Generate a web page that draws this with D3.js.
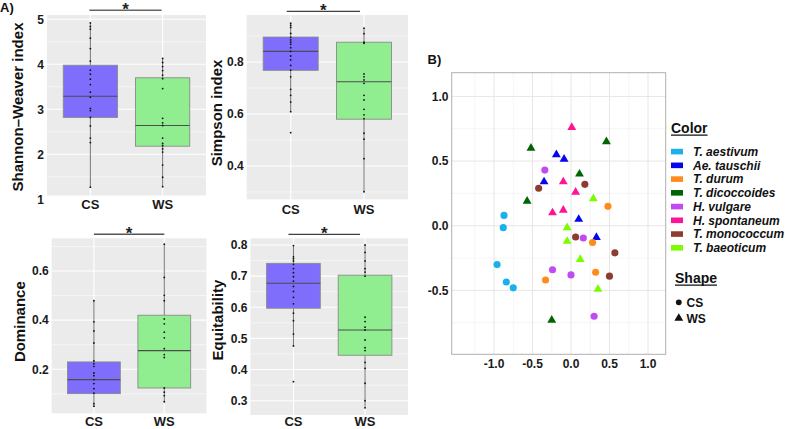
<!DOCTYPE html>
<html><head><meta charset="utf-8">
<script src="https://cdn.jsdelivr.net/npm/d3@7"></script>
<style>
body{margin:0;background:#fff}
svg{display:block;font-family:"Liberation Sans",Arial,sans-serif}
</style>
</head><body><svg id="c" width="785" height="429"></svg>
<script>
// ---------- DATA ----------
const groups = ["CS", "WS"];

// box stats: [whiskerLow, Q1, median, Q3, whiskerHigh]
const shannonBoxCS = [1.27, 2.82, 3.29, 3.98, 4.92];
const shannonBoxWS = [1.27, 2.18, 2.64, 3.70, 4.13];
const shannonCS = [4.92,4.84,4.78,4.58,4.35,4.07,3.87,3.78,3.67,3.55,3.38,3.27,3.02,2.97,2.82,2.63,2.36,2.26,1.27];
const shannonWS = [4.13,4.04,3.95,3.86,3.76,3.68,3.46,2.80,2.70,2.64,2.36,2.24,2.19,2.12,2.05,1.76,1.49,1.28];
const shannonTicks = [1, 2, 3, 4, 5];

const simpsonBoxCS = [0.609, 0.768, 0.841, 0.896, 0.949];
const simpsonBoxWS = [0.301, 0.580, 0.724, 0.876, 0.930];
const simpsonCS = [0.949,0.941,0.933,0.910,0.895,0.885,0.876,0.868,0.855,0.841,0.823,0.808,0.787,0.769,0.743,0.695,0.672,0.646,0.609,0.528];
const simpsonWS = [0.930,0.909,0.876,0.872,0.754,0.743,0.731,0.718,0.672,0.654,0.618,0.597,0.582,0.526,0.503,0.428,0.301];
const simpsonTicks = [0.4, 0.6, 0.8];

const dominanceBoxCS = [0.046, 0.101, 0.158, 0.230, 0.479];
const dominanceBoxWS = [0.067, 0.124, 0.276, 0.420, 0.709];
const dominanceCS = [0.479,0.393,0.356,0.307,0.234,0.223,0.212,0.185,0.174,0.158,0.142,0.121,0.103,0.060,0.050];
const dominanceWS = [0.709,0.574,0.501,0.479,0.405,0.385,0.351,0.328,0.284,0.260,0.248,0.124,0.107,0.093,0.068];
const dominanceTicks = [0.2, 0.4, 0.6];

const equitBoxCS = [0.473, 0.597, 0.677, 0.741, 0.798];
const equitBoxWS = [0.277, 0.446, 0.527, 0.703, 0.800];
const equitCS = [0.798,0.762,0.756,0.749,0.738,0.724,0.711,0.698,0.684,0.667,0.651,0.632,0.611,0.581,0.557,0.514,0.476,0.361];
const equitWS = [0.800,0.776,0.749,0.724,0.713,0.700,0.568,0.554,0.536,0.527,0.495,0.470,0.461,0.423,0.404,0.356,0.300,0.277];
const equitTicks = [0.3, 0.4, 0.5, 0.6, 0.7, 0.8];

// scatter (B)
const speciesNames = ["T. aestivum","Ae. tauschii","T. durum","T. dicoccoides","H. vulgare","H. spontaneum","T. monococcum","T. baeoticum"];
const speciesColors = ["#1AB0EC","#0505F0","#FF8C1A","#006400","#C04BF2","#FF1493","#8B3E2F","#7CFC00"];
const scatterX = [-0.87,-0.88,-0.96,-0.84,-0.75,
                  -0.19,-0.09,-0.35,0.10,0.33,
                  0.48,0.28,0.32,-0.33,
                  0.46,-0.52,0.11,-0.57,-0.25,
                  -0.34,0.16,-0.24,0.00,0.30,
                  0.01,-0.10,0.06,-0.24,-0.10,
                  -0.42,0.18,0.06,0.57,0.50,
                  0.29,-0.05,-0.05,0.12,0.35];
const scatterY = [0.08,-0.015,-0.30,-0.435,-0.48,
                  0.55,0.515,0.34,0.05,-0.09,
                  0.15,-0.13,-0.36,-0.42,
                  0.65,0.60,0.40,0.19,-0.73,
                  0.43,-0.095,-0.34,-0.38,-0.70,
                  0.76,0.34,0.26,0.10,0.12,
                  0.29,0.32,-0.087,-0.21,-0.39,
                  0.21,-0.015,-0.12,-0.26,-0.49];
const scatterSpecies = [0,0,0,0,0, 1,1,1,1,1, 2,2,2,2, 3,3,3,3,3, 4,4,4,4,4, 5,5,5,5,5, 6,6,6,6,6, 7,7,7,7,7];
const scatterGroup = ["CS","CS","CS","CS","CS", "WS","WS","WS","WS","WS", "CS","CS","CS","CS",
                      "WS","WS","WS","WS","WS", "CS","CS","CS","CS","CS", "WS","WS","WS","WS","WS",
                      "CS","CS","CS","CS","CS", "WS","WS","WS","WS","WS"];
const scatterXTicks = [-1, -0.5, 0, 0.5, 1];
const scatterXTickLabels = ["-1.0","-0.5","0.0","0.5","1.0"];
const scatterYTicks = [-0.5, 0, 0.5, 1];
const scatterYTickLabels = ["-0.5","0.0","0.5","1.0"];

// ---------- DRAW ----------
const svg = d3.select("#c");
const boxFill = {CS: "#7E6EFB", WS: "#90EE90"};

function boxPanel(o) {
  const g = svg.append("g");
  g.append("rect").attr("x", o.x0).attr("y", o.y0)
    .attr("width", o.x1 - o.x0).attr("height", o.y1 - o.y0).attr("fill", "#EBEBEB");
  const x = d3.scalePoint().domain(groups).range([o.x0, o.x1]).padding(0.6);
  const y = d3.scaleLinear().domain(o.domain).range(o.range);
  const step = x.step();
  const minor = [];
  for (let i = 0; i < o.ticks.length; i++) {
    const t = o.ticks[i], d = (o.ticks[1] - o.ticks[0]) / 2;
    minor.push(t - d);
    if (i === o.ticks.length - 1) minor.push(t + d);
  }
  g.selectAll(".mn").data(minor.filter(v => y(v) > o.y0 && y(v) < o.y1)).enter().append("line")
    .attr("x1", o.x0).attr("x2", o.x1).attr("y1", d => y(d)).attr("y2", d => y(d))
    .attr("stroke", "#fff").attr("stroke-width", 0.55);
  g.selectAll(".mj").data(o.ticks.filter(v => y(v) > o.y0 && y(v) < o.y1)).enter().append("line")
    .attr("x1", o.x0).attr("x2", o.x1).attr("y1", d => y(d)).attr("y2", d => y(d))
    .attr("stroke", "#fff").attr("stroke-width", 1.1);
  g.selectAll(".vg").data(groups).enter().append("line")
    .attr("x1", d => x(d)).attr("x2", d => x(d)).attr("y1", o.y0).attr("y2", o.y1)
    .attr("stroke", "#fff").attr("stroke-width", 1.1);

  groups.forEach((grp, gi) => {
    const b = o.boxes[gi];
    const cx = x(grp), w = step * 0.75;
    g.append("line").attr("x1", cx).attr("x2", cx).attr("y1", y(b[3])).attr("y2", y(b[4]))
      .attr("stroke", "#3a3a3a").attr("stroke-width", 0.7);
    g.append("line").attr("x1", cx).attr("x2", cx).attr("y1", y(b[1])).attr("y2", y(b[0]))
      .attr("stroke", "#3a3a3a").attr("stroke-width", 0.7);
    g.append("rect").attr("x", cx - w / 2).attr("width", w)
      .attr("y", y(b[3])).attr("height", y(b[1]) - y(b[3]))
      .attr("fill", boxFill[grp]).attr("stroke", "#8a8a8a").attr("stroke-width", 0.9);
    g.append("line").attr("x1", cx - w / 2).attr("x2", cx + w / 2)
      .attr("y1", y(b[2])).attr("y2", y(b[2]))
      .attr("stroke", "#4d4d4d").attr("stroke-width", 1.1);
    g.selectAll(".pt" + gi).data(o.dots[gi]).enter().append("circle")
      .attr("cx", cx).attr("cy", d => y(d)).attr("r", 0.9).attr("fill", "#111");
  });

  const sx1 = x("CS") + (o.sigDx || 0), sx2 = x("WS") + (o.sigDx || 0);
  g.append("line").attr("x1", sx1).attr("x2", sx2).attr("y1", o.sigY).attr("y2", o.sigY)
    .attr("stroke", o.sigColor).attr("stroke-width", o.sigW);
  g.append("text").attr("x", (sx1 + sx2) / 2).attr("y", o.sigY + 5)
    .attr("text-anchor", "middle").attr("font-size", 17).attr("font-weight", "bold")
    .attr("fill", "#222").text("*");

  g.selectAll(".yt").data(o.ticks).enter().append("text")
    .attr("x", o.x0 - 3).attr("y", d => y(d)).attr("dy", "0.36em")
    .attr("text-anchor", "end").attr("font-size", 12).attr("font-weight", "bold")
    .attr("fill", "#1a1a1a").text(d => o.fmt(d));
  g.selectAll(".xt").data(groups).enter().append("text")
    .attr("x", d => x(d)).attr("y", o.xLabY).attr("dy", "0.36em")
    .attr("text-anchor", "middle").attr("font-size", 13).attr("font-weight", "bold")
    .attr("fill", "#1a1a1a").text(d => d);
  g.append("text").attr("transform", `translate(${o.tX},${o.tY}) rotate(-90)`)
    .attr("text-anchor", "middle").attr("dy", "0.36em")
    .attr("font-size", 15).attr("font-weight", "bold").attr("fill", "#111").text(o.title);
}

const f0 = d3.format("d"), f1 = d3.format(".1f");

boxPanel({x0: 47, x1: 206, y0: 15, y1: 195.5, domain: [1, 5], range: [199.3, 19.3],
  ticks: shannonTicks, fmt: f0, boxes: [shannonBoxCS, shannonBoxWS], dots: [shannonCS, shannonWS],
  sigY: 10.3, sigColor: "#666", sigW: 1.6, sigDx: -1, xLabY: 204, title: "Shannon\u2013Weaver index", tX: 18, tY: 107});
boxPanel({x0: 246.7, x1: 408, y0: 15, y1: 199.3, domain: [0.4, 0.8], range: [166, 62],
  ticks: simpsonTicks, fmt: f1, boxes: [simpsonBoxCS, simpsonBoxWS], dots: [simpsonCS, simpsonWS],
  sigY: 11.3, sigColor: "#111", sigW: 1, sigDx: -4, xLabY: 209.3, title: "Simpson index", tX: 216.7, tY: 113});
boxPanel({x0: 51.7, x1: 206.5, y0: 238.3, y1: 413.3, domain: [0.2, 0.6], range: [369.3, 271],
  ticks: dominanceTicks, fmt: f1, boxes: [dominanceBoxCS, dominanceBoxWS], dots: [dominanceCS, dominanceWS],
  sigY: 234.3, sigColor: "#555", sigW: 1.5, sigDx: 0, xLabY: 421.3, title: "Dominance", tX: 20, tY: 321.7});
boxPanel({x0: 250.5, x1: 408, y0: 238.3, y1: 415, domain: [0.3, 0.8], range: [400.7, 245],
  ticks: equitTicks, fmt: f1, boxes: [equitBoxCS, equitBoxWS], dots: [equitCS, equitWS],
  sigY: 234.3, sigColor: "#111", sigW: 1, sigDx: -5, xLabY: 421.8, title: "Equitability", tX: 217.3, tY: 320});

svg.append("text").attr("x", 0).attr("y", 11.5).attr("font-size", 13).attr("font-weight", "bold")
  .attr("fill", "#111").text("A)");
svg.append("text").attr("x", 427.5).attr("y", 64).attr("font-size", 13).attr("font-weight", "bold")
  .attr("fill", "#111").text("B)");

// ---------- SCATTER ----------
const fx0 = 451.7, fx1 = 665.7, fy0 = 72.7, fy1 = 354.3;
const sx = d3.scaleLinear().domain([-1, 1]).range([494, 648]);
const sy = d3.scaleLinear().domain([-0.5, 1]).range([290.4, 96.4]);
const sg = svg.append("g");
sg.append("rect").attr("x", fx0).attr("y", fy0).attr("width", fx1 - fx0).attr("height", fy1 - fy0)
  .attr("fill", "#fff");
const xMinor = [-1.25, -0.75, -0.25, 0.25, 0.75];
const yMinor = [-0.75, -0.25, 0.25, 0.75];
sg.selectAll(".xmn").data(xMinor).enter().append("line")
  .attr("x1", d => sx(d)).attr("x2", d => sx(d)).attr("y1", fy0).attr("y2", fy1)
  .attr("stroke", "#F0F0F0").attr("stroke-width", 0.7);
sg.selectAll(".ymn").data(yMinor).enter().append("line")
  .attr("y1", d => sy(d)).attr("y2", d => sy(d)).attr("x1", fx0).attr("x2", fx1)
  .attr("stroke", "#F0F0F0").attr("stroke-width", 0.7);
sg.selectAll(".xmj").data(scatterXTicks).enter().append("line")
  .attr("x1", d => sx(d)).attr("x2", d => sx(d)).attr("y1", fy0).attr("y2", fy1)
  .attr("stroke", "#E6E6E6").attr("stroke-width", 1);
sg.selectAll(".ymj").data(scatterYTicks).enter().append("line")
  .attr("y1", d => sy(d)).attr("y2", d => sy(d)).attr("x1", fx0).attr("x2", fx1)
  .attr("stroke", "#E6E6E6").attr("stroke-width", 1);
sg.append("rect").attr("x", fx0).attr("y", fy0).attr("width", fx1 - fx0).attr("height", fy1 - fy0)
  .attr("fill", "none").attr("stroke", "#B0B0B0").attr("stroke-width", 1);

const circ = d3.symbol().type(d3.symbolCircle).size(40);
const tri = d3.symbol().type(d3.symbolTriangle).size(34);
sg.selectAll(".sp").data(d3.range(scatterX.length)).enter().append("path")
  .attr("transform", i => `translate(${sx(scatterX[i])},${sy(scatterY[i])})`)
  .attr("d", i => scatterGroup[i] === "CS" ? circ() : tri())
  .attr("fill", i => speciesColors[scatterSpecies[i]]);

sg.selectAll(".sxt").data(scatterXTicks).enter().append("text")
  .attr("x", d => sx(d)).attr("y", 363.3).attr("dy", "0.36em").attr("text-anchor", "middle")
  .attr("font-size", 12).attr("font-weight", "bold").attr("fill", "#1a1a1a")
  .text((d, i) => scatterXTickLabels[i]);
sg.selectAll(".syt").data(scatterYTicks).enter().append("text")
  .attr("x", 448.5).attr("y", d => sy(d)).attr("dy", "0.36em").attr("text-anchor", "end")
  .attr("font-size", 12).attr("font-weight", "bold").attr("fill", "#1a1a1a")
  .text((d, i) => scatterYTickLabels[i]);

// ---------- LEGEND ----------
const lg = svg.append("g");
function uTitle(txt, x, yb) {
  const t = lg.append("text").attr("x", x).attr("y", yb).attr("font-size", 14)
    .attr("font-weight", "bold").attr("fill", "#111").text(txt);
  const w = t.node().getComputedTextLength();
  lg.append("line").attr("x1", x).attr("x2", x + w).attr("y1", yb + 2.2).attr("y2", yb + 2.2)
    .attr("stroke", "#111").attr("stroke-width", 1.2);
}
uTitle("Color", 671, 133);
const ly = d3.scalePoint().domain(speciesNames).range([151.6, 247.8]);
lg.selectAll(".lk").data(speciesNames).enter().append("rect")
  .attr("x", 671).attr("y", d => ly(d) - 2.8).attr("width", 12).attr("height", 5.6)
  .attr("fill", (d, i) => speciesColors[i]);
lg.selectAll(".lt").data(speciesNames).enter().append("text")
  .attr("x", 693).attr("y", d => ly(d)).attr("dy", "0.36em")
  .attr("font-size", 12).attr("font-weight", "bold").attr("font-style", "italic")
  .attr("fill", "#111").text(d => d);

uTitle("Shape", 675, 283);
const shY = d3.scalePoint().domain(groups).range([302.3, 318.3]);
lg.selectAll(".ls").data(groups).enter().append("path")
  .attr("transform", d => `translate(678.8,${shY(d)})`)
  .attr("d", d => d === "CS" ? d3.symbol().type(d3.symbolCircle).size(26)() : d3.symbol().type(d3.symbolTriangle).size(34)())
  .attr("fill", "#111");
lg.selectAll(".lst").data(groups).enter().append("text")
  .attr("x", 686.5).attr("y", d => shY(d)).attr("dy", "0.36em")
  .attr("font-size", 12).attr("font-weight", "bold").attr("fill", "#111").text(d => d);
</script>
</body></html>
